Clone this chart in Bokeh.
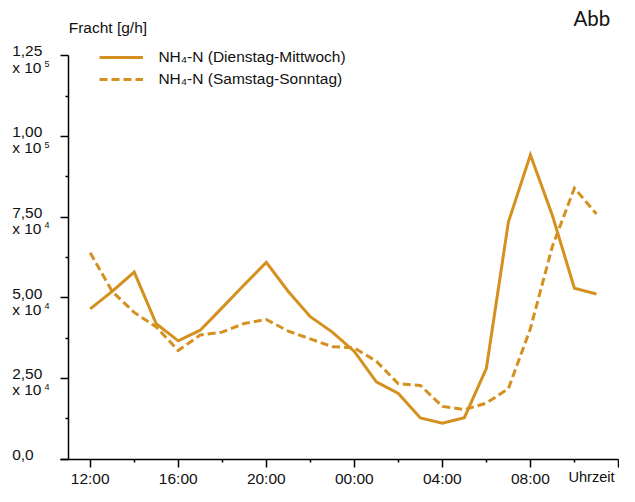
from bokeh.plotting import figure
from bokeh.models import Range1d, FixedTicker, Label, Legend, LegendItem
from bokeh.embed import file_html
from bokeh.resources import INLINE

# hours after 12:00
stunden = [0, 1, 2, 3, 4, 5, 6, 7, 8, 9, 10, 11, 12, 13, 14, 15, 16, 17, 18, 19, 20, 21, 22, 23]
dienstag_mittwoch = [46600, 52000, 58000, 42000, 36700, 40000, 47000, 54100, 61000, 52000,
                     44200, 39400, 33400, 24000, 20400, 12800, 11200, 12900, 28200, 73500,
                     94300, 75500, 53000, 51200]
samstag_sonntag = [64000, 52000, 45500, 41000, 33700, 38500, 39400, 42100, 43300, 39700,
                   37300, 34900, 34500, 30400, 23400, 22900, 16400, 15400, 17400, 21900,
                   40500, 66000, 84000, 76000]

x_major = [0, 4, 8, 12, 16, 20, 24]
x_labels = ["12:00", "16:00", "20:00", "00:00", "04:00", "08:00", ""]
x_minor = [2, 6, 10, 14, 18, 22]

y_major = [0, 25000, 50000, 75000, 100000, 125000]
y_main = ["0,0", "2,50", "5,00", "7,50", "1,00", "1,25"]
y_exp = ["", "4", "4", "4", "5", "5"]
y_minor = [12500, 37500, 62500, 87500, 112500]

legend_labels = ["NH\u2084-N (Dienstag-Mittwoch)", "NH\u2084-N (Samstag-Sonntag)"]

COLOR = "#D4911F"
FONT = "Liberation Sans"
TXT = "#111111"

p = figure(width=619, height=486, output_backend="svg", toolbar_location=None,
           x_range=Range1d(-4.075, 24.048), y_range=Range1d(-8426, 142131),
           min_border_left=0, min_border_right=0, min_border_top=0, min_border_bottom=0)
p.grid.visible = False
p.outline_line_color = None
p.background_fill_color = "white"
p.border_fill_color = "white"


def style_axis(ax):
    ax.major_tick_out = 8
    ax.major_tick_in = 0
    ax.minor_tick_out = 3
    ax.minor_tick_in = 0
    ax.axis_line_width = 1.5
    ax.major_tick_line_width = 1.5
    ax.minor_tick_line_width = 1.5
    ax.axis_line_color = "black"
    ax.major_tick_line_color = "black"
    ax.minor_tick_line_color = "black"


# x axis, placed at y = 0
xa = p.xaxis[0]
xa.fixed_location = 0
xa.bounds = (-1.35, 24)
xa.ticker = FixedTicker(ticks=x_major, minor_ticks=x_minor)
xa.major_label_overrides = {t: l for t, l in zip(x_major, x_labels)}
style_axis(xa)
xa.major_label_text_font = FONT
xa.major_label_text_font_size = "15.5px"
xa.major_label_text_color = TXT
xa.major_label_standoff = 3

# y axis, placed at x = -1 (11:00)
ya = p.yaxis[0]
ya.fixed_location = -1
ya.bounds = (0, 125000)
ya.ticker = FixedTicker(ticks=y_major, minor_ticks=y_minor)
style_axis(ya)
ya.major_label_text_font_size = "0px"
ya.major_label_text_alpha = 0

r1 = p.line(stunden, dienstag_mittwoch, line_color=COLOR, line_width=3, line_join="miter")
r2 = p.line(stunden, samstag_sonntag, line_color=COLOR, line_width=3, line_dash="8 4",
            line_join="miter")

legend = Legend(items=[LegendItem(label=legend_labels[0], renderers=[r1]),
                       LegendItem(label=legend_labels[1], renderers=[r2])],
                location=(99.4, 396.8), glyph_width=44, glyph_height=20, label_height=20,
                label_standoff=15, spacing=2, padding=0, margin=0,
                border_line_color=None, background_fill_alpha=0,
                label_text_font=FONT, label_text_font_size="15.5px", label_text_color=TXT)
p.add_layout(legend, "center")

# y tick labels (two-line with exponent)
for v, m, e in zip(y_major, y_main, y_exp):
    p.add_layout(Label(x=-1, y=v, x_offset=-56, y_offset=4.4, text=m, text_align="left",
                       text_baseline="middle", text_font=FONT, text_font_size="15.5px",
                       text_color=TXT))
    if e:
        p.add_layout(Label(x=-1, y=v, x_offset=-56, y_offset=-11.3, text="x 10",
                           text_align="left", text_baseline="middle", text_font=FONT,
                           text_font_size="15.5px", text_color=TXT))
        p.add_layout(Label(x=-1, y=v, x_offset=-23.8, y_offset=-8.2, text=e,
                           text_align="left", text_baseline="middle", text_font=FONT,
                           text_font_size="9px", text_color=TXT))

p.add_layout(Label(x=-1, y=125000, x_offset=0.5, y_offset=27.8, text="Fracht [g/h]",
                   text_align="left", text_baseline="alphabetic", text_font=FONT,
                   text_font_size="15.5px", text_color=TXT))
p.add_layout(Label(x=24, y=0, x_offset=-50, y_offset=-17.5, text="Uhrzeit",
                   text_align="left", text_baseline="middle", text_font=FONT,
                   text_font_size="14.6px", text_color=TXT))
p.add_layout(Label(x=24, y=125000, x_offset=-45, y_offset=37.5, text="Abb",
                   text_align="left", text_baseline="alphabetic", text_font="Lato",
                   text_font_size="20.5px", text_color=TXT))

open("out.html", "w").write(file_html(p, INLINE))
